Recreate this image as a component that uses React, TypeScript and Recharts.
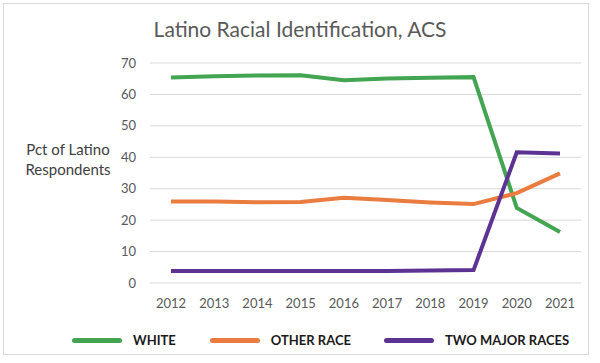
import React from "react";
import { LineChart, Line, XAxis, YAxis, CartesianGrid } from "recharts";

const YEARS = ["2012", "2013", "2014", "2015", "2016", "2017", "2018", "2019", "2020", "2021"];
const WHITE = [65.4, 65.8, 66.0, 66.1, 64.5, 65.1, 65.3, 65.5, 23.9, 16.2];
const OTHER_RACE = [25.9, 25.9, 25.7, 25.8, 27.1, 26.4, 25.6, 25.1, 28.6, 34.9];
const TWO_MAJOR = [3.8, 3.8, 3.8, 3.8, 3.8, 3.8, 4.0, 4.1, 41.6, 41.2];
const Y_TICKS = [0, 10, 20, 30, 40, 50, 60, 70];

const SERIES = [
  { key: "white", name: "WHITE", color: "#43a452", values: WHITE },
  { key: "other", name: "OTHER RACE", color: "#e97c3e", values: OTHER_RACE },
  { key: "two", name: "TWO MAJOR RACES", color: "#5c3393", values: TWO_MAJOR },
];

const data = YEARS.map((year, i) => ({
  year,
  white: WHITE[i],
  other: OTHER_RACE[i],
  two: TWO_MAJOR[i],
}));

const FONT = "Lato, 'Open Sans', sans-serif";

const AxisTitle = () => (
  <text x={68} y={155} textAnchor="middle" fill="#404040" fontSize={15} fontFamily={FONT}>
    <tspan x={68} dy={0}>Pct of Latino</tspan>
    <tspan x={68} dy={20}>Respondents</tspan>
  </text>
);

export default function App() {
  return (
    <div style={{ position: "fixed", left: 0, top: 0, width: 600, height: 363, background: "#fff", fontFamily: FONT }}>
      <div
        style={{
          position: "absolute",
          left: 3,
          top: 3,
          width: 586,
          height: 352,
          border: "1px solid #d9d9d9",
          boxSizing: "border-box",
        }}
      />
      <div
        style={{
          position: "absolute",
          left: 0,
          top: 16,
          width: 600,
          textAlign: "center",
          fontSize: 21,
          color: "#595959",
        }}
      >
        Latino Racial Identification, ACS
      </div>
      <div style={{ position: "absolute", left: 0, top: 0 }}>
        <LineChart width={600} height={330} data={data} margin={{ top: 63, right: 19, left: 0, bottom: 17 }}>
          <CartesianGrid vertical={false} stroke="#d9d9d9" strokeWidth={1} />
          <XAxis
            dataKey="year"
            axisLine={false}
            tickLine={false}
            padding={{ left: 21, right: 21 }}
            tick={{ fill: "#595959", fontSize: 13, fontFamily: FONT }}
            tickMargin={10}
            height={30}
          />
          <YAxis
            width={150}
            domain={[0, 70]}
            ticks={Y_TICKS}
            axisLine={false}
            tickLine={false}
            tick={{ fill: "#595959", fontSize: 13, fontFamily: FONT }}
            tickMargin={8}
            label={{ content: <AxisTitle /> }}
          />
          {SERIES.map((s) => (
            <Line
              key={s.key}
              dataKey={s.key}
              name={s.name}
              stroke={s.color}
              strokeWidth={4}
              dot={false}
              isAnimationActive={false}
            />
          ))}
        </LineChart>
      </div>
      <div
        style={{
          position: "absolute",
          left: 72,
          top: 332,
          width: 520,
          display: "flex",
          alignItems: "center",
          whiteSpace: "nowrap",
        }}
      >
        {SERIES.map((s, i) => (
          <div key={s.key} style={{ display: "flex", alignItems: "center", flexShrink: 0, marginRight: i === 0 ? 34 : 33 }}>
            <div style={{ width: 50, height: 5, borderRadius: 3, background: s.color, marginRight: 11 }} />
            <span style={{ fontSize: 13, fontWeight: 700, color: "#1a1a1a" }}>{s.name}</span>
          </div>
        ))}
      </div>
    </div>
  );
}
